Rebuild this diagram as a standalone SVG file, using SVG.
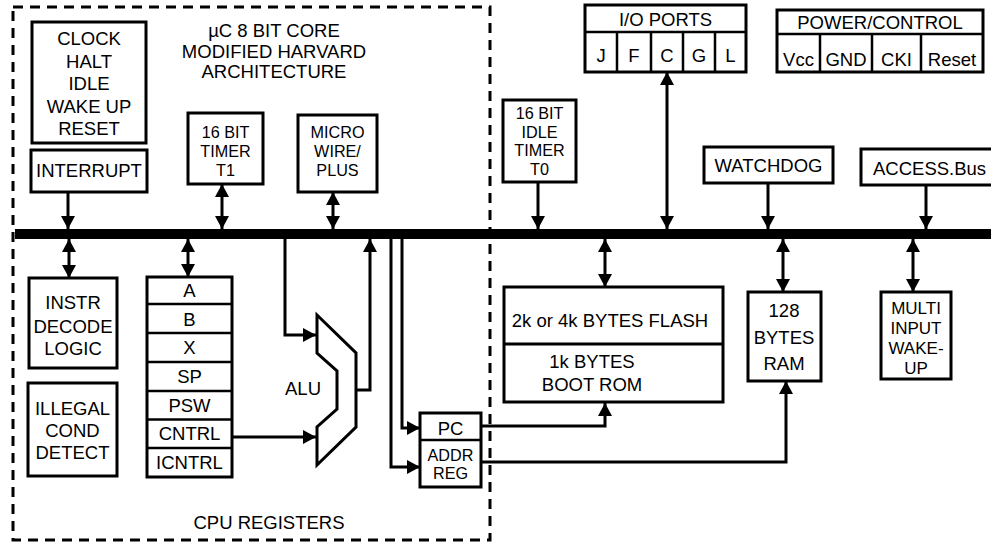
<svg xmlns="http://www.w3.org/2000/svg" width="991" height="544" viewBox="0 0 991 544">
<style>
.b{fill:#fff;stroke:#000;stroke-width:3}
.l{fill:none;stroke:#000;stroke-width:3}
.d{fill:none;stroke:#000;stroke-width:2.5}
text{font-family:"Liberation Sans",Arial,sans-serif;font-size:18.5px;fill:#000;text-anchor:middle}
.t{font-size:16.2px}
.m{font-size:17px}
.a{marker-end:url(#ah)}
.aa{marker-start:url(#ah);marker-end:url(#ah)}
</style>
<defs>
<marker id="ah" viewBox="0 0 13 14" refX="13" refY="7" markerWidth="13" markerHeight="14" markerUnits="userSpaceOnUse" orient="auto-start-reverse">
<path d="M0,0 L13,7 L0,14 z" fill="#000"/>
</marker>
</defs>
<rect id="core-boundary" x="13" y="7" width="477" height="533" fill="none" stroke="#000" stroke-width="3" stroke-dasharray="10 7"/>
<g id="title">
<text x="274" y="37">µC 8 BIT CORE</text>
<text x="274" y="57.5">MODIFIED HARVARD</text>
<text x="274" y="78">ARCHITECTURE</text>
</g>
<text id="cpu-registers-label" x="269" y="529">CPU REGISTERS</text>
<rect id="bus" x="15" y="229" width="976" height="10" fill="#000"/>
<g id="clock">
<rect class="b" x="32" y="22" width="114" height="121"/>
<text x="89" y="45">CLOCK</text>
<text x="89" y="67.5">HALT</text>
<text x="89" y="90">IDLE</text>
<text x="89" y="112.5">WAKE UP</text>
<text x="89" y="135">RESET</text>
</g>
<g id="interrupt">
<rect class="b" x="31" y="150" width="116" height="42"/>
<text x="89" y="177">INTERRUPT</text>
</g>
<g id="timer-t1">
<rect class="b" x="188" y="113" width="75" height="71"/>
<text class="t" x="225.5" y="137.5">16 BIT</text>
<text class="t" x="225.5" y="156.5">TIMER</text>
<text class="t" x="225.5" y="175.5">T1</text>
</g>
<g id="microwire">
<rect class="b" x="298" y="115" width="79" height="77"/>
<text class="t" x="337.5" y="137.5">MICRO</text>
<text class="t" x="337.5" y="156.5">WIRE/</text>
<text class="t" x="337.5" y="175.5">PLUS</text>
</g>
<g id="timer-t0">
<rect class="b" x="503" y="100" width="73" height="82"/>
<text class="t" x="539.5" y="119">16 BIT</text>
<text class="t" x="539.5" y="137.5">IDLE</text>
<text class="t" x="539.5" y="156">TIMER</text>
<text class="t" x="539.5" y="174.5">T0</text>
</g>
<g id="io-ports">
<rect class="b" x="585" y="5" width="161" height="67"/>
<path class="d" d="M585,32 H746 M617,32 V72 M651,32 V72 M683,32 V72 M715,32 V72"/>
<text x="665.5" y="26">I/O PORTS</text>
<text x="601" y="62">J</text>
<text x="634" y="62">F</text>
<text x="667" y="62">C</text>
<text x="699" y="62">G</text>
<text x="730.5" y="62">L</text>
</g>
<g id="power-control">
<rect class="b" x="777" y="10" width="206" height="62"/>
<path class="d" d="M777,34 H983 M820,34 V72 M872,34 V72 M921,34 V72"/>
<text x="880" y="29">POWER/CONTROL</text>
<text x="798.5" y="66">Vcc</text>
<text x="846" y="66">GND</text>
<text x="896.5" y="66">CKI</text>
<text x="952" y="66">Reset</text>
</g>
<g id="watchdog">
<rect class="b" x="704" y="147" width="129" height="36"/>
<text x="768.5" y="172">WATCHDOG</text>
</g>
<g id="access-bus">
<rect class="b" x="861" y="149" width="140" height="36"/>
<text x="873" y="175" style="text-anchor:start">ACCESS.Bus</text>
</g>
<g id="instr-decode">
<rect class="b" x="29" y="278" width="88" height="90"/>
<text x="73" y="308.5">INSTR</text>
<text x="73" y="332.5">DECODE</text>
<text x="73" y="354.5">LOGIC</text>
</g>
<g id="illegal-cond">
<rect class="b" x="28" y="383" width="89" height="93"/>
<text x="72.5" y="415">ILLEGAL</text>
<text x="72.5" y="437">COND</text>
<text x="72.5" y="459">DETECT</text>
</g>
<g id="registers">
<rect class="b" x="147" y="277" width="85" height="200"/>
<path class="d" d="M147,304 H232 M147,333 H232 M147,362 H232 M147,391 H232 M147,419.5 H232 M147,448 H232"/>
<text x="189.5" y="297">A</text>
<text x="189.5" y="325.5">B</text>
<text x="189.5" y="354">X</text>
<text x="189.5" y="383">SP</text>
<text x="189.5" y="411.5">PSW</text>
<text x="189.5" y="440">CNTRL</text>
<text x="189.5" y="469">ICNTRL</text>
</g>
<g id="alu">
<path class="l" d="M317,315 L356,353 V427 L317,465 V427 L337,409 V371 L317,353 Z" fill="#fff"/>
<text x="303" y="395">ALU</text>
</g>
<g id="pc-addr">
<rect class="b" x="420" y="413" width="61" height="74"/>
<path class="d" d="M420,440 H481"/>
<text x="450.5" y="434.5">PC</text>
<text class="t" x="450.5" y="460.5">ADDR</text>
<text class="t" x="450.5" y="479">REG</text>
</g>
<g id="flash-rom">
<rect class="b" x="504" y="287" width="219" height="115"/>
<path class="l" d="M504,344 H723"/>
<text x="610" y="327">2k or 4k BYTES FLASH</text>
<text x="592" y="368">1k BYTES</text>
<text x="592" y="391">BOOT ROM</text>
</g>
<g id="ram">
<rect class="b" x="748" y="292" width="73" height="89"/>
<text x="784" y="317">128</text>
<text x="784" y="344">BYTES</text>
<text x="784" y="370">RAM</text>
</g>
<g id="multi-input">
<rect class="b" x="881" y="292" width="70" height="87"/>
<text class="m" x="916" y="313.5">MULTI</text>
<text class="m" x="916" y="333.5">INPUT</text>
<text class="m" x="916" y="353.5">WAKE-</text>
<text class="m" x="916" y="373.5">UP</text>
</g>
<g id="connectors">
<path class="l a" d="M68,192 V229"/>
<path class="l aa" d="M222,184 V229"/>
<path class="l aa" d="M333,192 V229"/>
<path class="l a" d="M538,182 V229"/>
<path class="l aa" d="M667,72 V229"/>
<path class="l a" d="M768,183 V229"/>
<path class="l a" d="M926,185 V229"/>
<path class="l aa" d="M69,239 V278"/>
<path class="l aa" d="M188,239 V277"/>
<path class="l a" d="M285,239 V335 H316"/>
<path class="l a" d="M232,437 H316"/>
<path class="l a" d="M356,390 H370 V239"/>
<path class="l a" d="M402,239 V428 H420"/>
<path class="l a" d="M391,239 V467 H420"/>
<path class="l aa" d="M605,239 V287"/>
<path class="l a" d="M481,426 H605 V403"/>
<path class="l aa" d="M783,239 V292"/>
<path class="l a" d="M481,462 H786 V381"/>
<path class="l aa" d="M913,239 V292"/>
</g>
</svg>
